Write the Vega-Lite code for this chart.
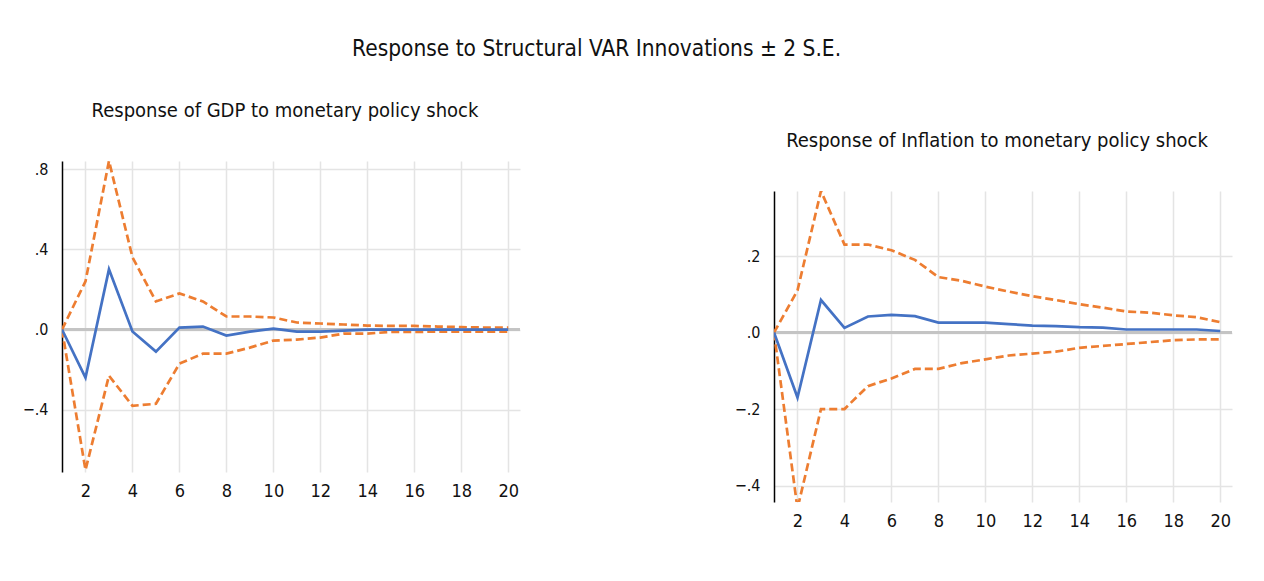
{
  "$schema": "https://vega.github.io/schema/vega-lite/v6.json",
  "background": "white",
  "padding": {"left": 22, "top": 37, "right": 0, "bottom": 0},
  "title": {"text": "Response to Structural VAR Innovations ± 2 S.E.", "fontSize": 22.5, "fontWeight": "normal", "color": "#111111", "anchor": "middle", "dx": -31, "offset": 16},
  "config": {
    "font": "DejaVu Sans Condensed, Liberation Sans, sans-serif",
    "view": {"stroke": null},
    "axis": {"labelColor": "#111111", "ticks": false, "gridColor": "#e4e4e4", "gridWidth": 1.5, "title": null},
    "title": {"fontWeight": "normal", "color": "#111111"}
  },
  "datasets": {
    "gdp": [
      {"step": 1, "resp": 0.0, "lo": 0.0, "hi": 0.0},
      {"step": 2, "resp": -0.24, "lo": -0.70, "hi": 0.24},
      {"step": 3, "resp": 0.30, "lo": -0.23, "hi": 0.84},
      {"step": 4, "resp": -0.01, "lo": -0.38, "hi": 0.36},
      {"step": 5, "resp": -0.11, "lo": -0.37, "hi": 0.14},
      {"step": 6, "resp": 0.01, "lo": -0.17, "hi": 0.18},
      {"step": 7, "resp": 0.015, "lo": -0.12, "hi": 0.14},
      {"step": 8, "resp": -0.03, "lo": -0.12, "hi": 0.065},
      {"step": 9, "resp": -0.01, "lo": -0.09, "hi": 0.065},
      {"step": 10, "resp": 0.005, "lo": -0.055, "hi": 0.06},
      {"step": 11, "resp": -0.01, "lo": -0.05, "hi": 0.035},
      {"step": 12, "resp": -0.01, "lo": -0.04, "hi": 0.03},
      {"step": 13, "resp": -0.005, "lo": -0.02, "hi": 0.025},
      {"step": 14, "resp": 0.0, "lo": -0.02, "hi": 0.02},
      {"step": 15, "resp": 0.0, "lo": -0.012, "hi": 0.018},
      {"step": 16, "resp": 0.0, "lo": -0.012, "hi": 0.018},
      {"step": 17, "resp": 0.0, "lo": -0.01, "hi": 0.015},
      {"step": 18, "resp": 0.0, "lo": -0.01, "hi": 0.012},
      {"step": 19, "resp": 0.0, "lo": -0.01, "hi": 0.01},
      {"step": 20, "resp": 0.0, "lo": -0.01, "hi": 0.01}
    ],
    "inf": [
      {"step": 1, "resp": 0.0, "lo": 0.0, "hi": 0.0},
      {"step": 2, "resp": -0.17, "lo": -0.46, "hi": 0.11},
      {"step": 3, "resp": 0.085, "lo": -0.20, "hi": 0.37},
      {"step": 4, "resp": 0.012, "lo": -0.20, "hi": 0.23},
      {"step": 5, "resp": 0.042, "lo": -0.14, "hi": 0.23},
      {"step": 6, "resp": 0.046, "lo": -0.12, "hi": 0.215},
      {"step": 7, "resp": 0.043, "lo": -0.095, "hi": 0.19},
      {"step": 8, "resp": 0.026, "lo": -0.095, "hi": 0.145},
      {"step": 9, "resp": 0.026, "lo": -0.08, "hi": 0.135},
      {"step": 10, "resp": 0.026, "lo": -0.07, "hi": 0.12},
      {"step": 11, "resp": 0.022, "lo": -0.06, "hi": 0.107},
      {"step": 12, "resp": 0.018, "lo": -0.055, "hi": 0.095},
      {"step": 13, "resp": 0.017, "lo": -0.05, "hi": 0.085},
      {"step": 14, "resp": 0.014, "lo": -0.04, "hi": 0.074},
      {"step": 15, "resp": 0.013, "lo": -0.035, "hi": 0.065},
      {"step": 16, "resp": 0.008, "lo": -0.03, "hi": 0.055},
      {"step": 17, "resp": 0.008, "lo": -0.025, "hi": 0.052},
      {"step": 18, "resp": 0.008, "lo": -0.02, "hi": 0.045},
      {"step": 19, "resp": 0.008, "lo": -0.018, "hi": 0.04},
      {"step": 20, "resp": 0.004, "lo": -0.018, "hi": 0.027}
    ]
  },
  "spacing": 213,
  "hconcat": [
    {"spacing": 0, "vconcat": [
    {"width": 458, "height": 25, "data": {"values": []}, "mark": "point", "encoding": {}},
    {
      "width": 458,
      "height": 311,
      "title": {"text": "Response of GDP to monetary policy shock", "fontSize": 20, "anchor": "middle", "dx": -6, "offset": 40},
      "data": {"name": "gdp"},
      "encoding": {
        "x": {"field": "step", "type": "quantitative", "scale": {"domain": [1, 20.5], "nice": false, "zero": false},
          "axis": {"values": [2, 4, 6, 8, 10, 12, 14, 16, 18, 20], "domain": false, "labelFontSize": 18, "labelPadding": 10, "grid": true}}
      },
      "layer": [
        {"mark": {"type": "rule", "color": "#c4c4c4", "strokeWidth": 2}, "encoding": {"y": {"datum": 0, "type": "quantitative"}, "x": null}},
        {"mark": {"type": "line", "color": "#ED7D31", "strokeWidth": 2.7, "strokeDash": [8, 4], "clip": true},
          "encoding": {"y": {"field": "hi", "type": "quantitative", "scale": {"domain": [-0.71, 0.84], "nice": false, "zero": false},
            "axis": {"values": [-0.4, 0, 0.4, 0.8], "labelExpr": "replace(format(datum.value, '.1f'), '0.', '.')", "domainColor": "#000000", "domainWidth": 1.5, "labelFontSize": 16, "labelPadding": 14, "grid": true}}}},
        {"mark": {"type": "line", "color": "#ED7D31", "strokeWidth": 2.7, "strokeDash": [8, 4], "clip": true}, "encoding": {"y": {"field": "lo", "type": "quantitative"}}},
        {"mark": {"type": "line", "color": "#4472C4", "strokeWidth": 2.7, "clip": true}, "encoding": {"y": {"field": "resp", "type": "quantitative"}}}
      ]
    }]},
    {"spacing": 0, "vconcat": [
    {"width": 458, "height": 55, "data": {"values": []}, "mark": "point", "encoding": {}},
    {
      "width": 458,
      "height": 311,
      "title": {"text": "Response of Inflation to monetary policy shock", "fontSize": 20, "anchor": "middle", "dx": -6, "offset": 40},
      "data": {"name": "inf"},
      "encoding": {
        "x": {"field": "step", "type": "quantitative", "scale": {"domain": [1, 20.5], "nice": false, "zero": false},
          "axis": {"values": [2, 4, 6, 8, 10, 12, 14, 16, 18, 20], "domain": false, "labelFontSize": 18, "labelPadding": 10, "grid": true}}
      },
      "layer": [
        {"mark": {"type": "rule", "color": "#c4c4c4", "strokeWidth": 2}, "encoding": {"y": {"datum": 0, "type": "quantitative"}, "x": null}},
        {"mark": {"type": "line", "color": "#ED7D31", "strokeWidth": 2.7, "strokeDash": [8, 4], "clip": true},
          "encoding": {"y": {"field": "hi", "type": "quantitative", "scale": {"domain": [-0.443, 0.37], "nice": false, "zero": false},
            "axis": {"values": [-0.4, -0.2, 0, 0.2], "labelExpr": "replace(format(datum.value, '.1f'), '0.', '.')", "domainColor": "#000000", "domainWidth": 1.5, "labelFontSize": 16, "labelPadding": 14, "grid": true}}}},
        {"mark": {"type": "line", "color": "#ED7D31", "strokeWidth": 2.7, "strokeDash": [8, 4], "clip": true}, "encoding": {"y": {"field": "lo", "type": "quantitative"}}},
        {"mark": {"type": "line", "color": "#4472C4", "strokeWidth": 2.7, "clip": true}, "encoding": {"y": {"field": "resp", "type": "quantitative"}}}
      ]
    }]}
  ]
}
